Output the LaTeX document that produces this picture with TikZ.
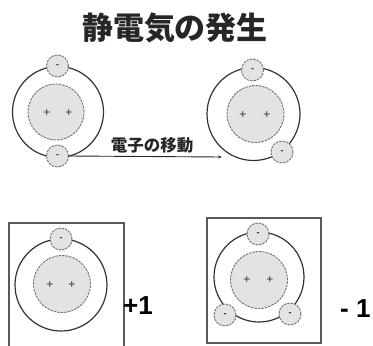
\documentclass[tikz,border=0pt]{standalone}
\usepackage{fontspec}
\newfontfamily\jp{Noto Sans CJK JP}
\setsansfont{Liberation Sans}
\usetikzlibrary{arrows.meta}
\begin{document}
\begin{tikzpicture}[x=1pt,y=-1pt,
  orbit/.style={circle,draw=black!80,line width=1.2pt,minimum size=#1,inner sep=0pt},
  nucleus/.style={circle,draw=black!55,dash pattern=on 2.5pt off 1pt,line width=0.9pt,
    fill=black!11,minimum size=#1,inner sep=0pt},
  electron/.style={circle,draw=black!55,dash pattern=on 2.5pt off 1pt,line width=0.9pt,
    fill=black!11,minimum size=22pt,inner sep=0pt,
    font=\sffamily\bfseries\fontsize{9}{9}\selectfont,text=black!85},
  plus/.style={inner sep=0pt,font=\sffamily\fontsize{12}{12}\selectfont,text=black!80},
  frame/.style={draw=black!65,line width=1.5pt},
  charge/.style={anchor=west,inner sep=0pt,font=\sffamily\bfseries\fontsize{26}{26}\selectfont},
  move/.style={-{Stealth[length=4pt,width=3pt]},draw=black!85,line width=0.9pt}]
\useasboundingbox (0,0) rectangle (373,346);
\clip (0,0) rectangle (373,346);

% title
\node[inner sep=0pt,font=\jp\bfseries\fontsize{31}{31}\selectfont,text=black!85] (title) at (175,28) {静電気の発生};

% atom before the transfer
\node[orbit=91pt] (orbA) at (58,112) {};
\node[nucleus=56pt] (nucA) at (56,112) {};
\node[plus] (pA1) at (47,113) {+};
\node[plus] (pA2) at (69,113) {+};
\node[electron] (eA1) at (57.5,66) {-};
\node[electron] (eA2) at (57.5,156) {-};

% atom after the transfer
\node[orbit=93pt] (orbB) at (253.5,114) {};
\node[nucleus=57pt] (nucB) at (255.5,114) {};
\node[plus] (pB1) at (243,115) {+};
\node[plus] (pB2) at (267,115) {+};
\node[electron] (eB1) at (252.5,70) {-};
\node[electron] (eB2) at (282,152) {-};

% electron transfer arrow
\coordinate (moveEnd) at (222,157);
\draw[move] (eA2.east) -- (moveEnd);
\node[inner sep=0pt,font=\jp\bfseries\fontsize{16.5}{16.5}\selectfont,text=black!85] (moveLabel) at (152,145.5) {電子の移動};

% positively charged atom
\draw[frame] (9,223) rectangle (124,360);
\node[orbit=92pt] (orbC) at (61,285) {};
\node[nucleus=57pt] (nucC) at (62,284) {};
\node[plus] (pC1) at (50,285) {+};
\node[plus] (pC2) at (72,285) {+};
\node[electron] (eC1) at (61,239) {-};
\node[charge] (qC) at (123,306) {+1};

% negatively charged atom
\draw[frame] (207,218) rectangle (321,343);
\node[orbit=90pt] (orbD) at (259,277) {};
\node[nucleus=57pt] (nucD) at (259,280) {};
\node[plus] (pD1) at (247,280) {+};
\node[plus] (pD2) at (270,280) {+};
\node[electron] (eD1) at (258,234) {-};
\node[electron] (eD2) at (225,315) {-};
\node[electron] (eD3) at (290,314) {-};
\node[charge] (qD) at (340,309) {- 1};
\end{tikzpicture}
\end{document}
